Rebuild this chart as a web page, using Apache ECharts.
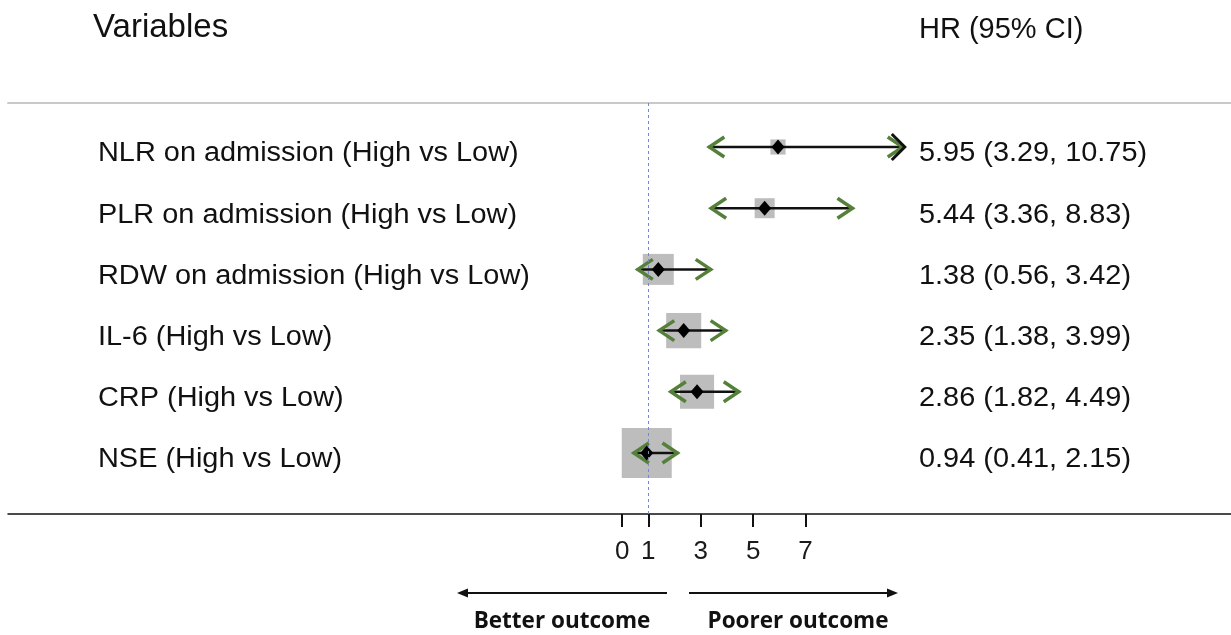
<!DOCTYPE html>
<html>
<head>
<meta charset="utf-8">
<script src="https://cdn.jsdelivr.net/npm/echarts@6/dist/echarts.min.js"></script>
<style>
  html, body { margin: 0; padding: 0; background: #fff; }
  #chart { width: 1231px; height: 635px; }
</style>
</head>
<body>
<div id="chart"></div>
<script>
// Hazard ratios with 95% confidence intervals
const variables = [
  'NLR on admission (High vs Low)',
  'PLR on admission (High vs Low)',
  'RDW on admission (High vs Low)',
  'IL-6 (High vs Low)',
  'CRP (High vs Low)',
  'NSE (High vs Low)'
];
const hr    = [5.95, 5.44, 1.38, 2.35, 2.86, 0.94];
const lower = [3.29, 3.36, 0.56, 1.38, 1.82, 0.41];
const upper = [10.75, 8.83, 3.42, 3.99, 4.49, 2.15];
// relative study weight, drawn as the area of the grey square
const weights = [2.3, 4.0, 9.6, 12.3, 11.6, 25.0];
const tickValues = [0, 1, 3, 5, 7];
const nullValue = 1;
const displayCap = 10;   // intervals reaching past this get a dark end cap

const FONT = "'Liberation Sans', Arial, sans-serif";
const GREEN = '#55803a';

const rows = variables.map((v, i) => [i, hr[i], lower[i], upper[i], weights[i]]);

function fmt(n) { return n.toFixed(2); }

const chart = echarts.init(document.getElementById('chart'), null, { renderer: 'canvas' });

const option = {
  animation: false,
  backgroundColor: '#ffffff',
  grid: { left: 8, right: 0, top: 103, bottom: 121, containLabel: false },
  xAxis: [
    {
      type: 'value',
      min: -23.44,
      max: 23.24,
      position: 'bottom',
      splitLine: { show: false },
      axisLine: { show: true, onZero: false, lineStyle: { color: '#111', width: 1.5 } },
      axisTick: { show: true, length: 13, customValues: tickValues, lineStyle: { color: '#111', width: 2 } },
      axisLabel: {
        show: true, customValues: tickValues, margin: 25,
        fontFamily: FONT, fontSize: 26, color: '#1a1a1a'
      }
    },
    {
      type: 'value',
      min: -23.44,
      max: 23.24,
      position: 'top',
      splitLine: { show: false },
      axisLine: { show: true, onZero: false, lineStyle: { color: '#c9c9c9', width: 2 } },
      axisTick: { show: false },
      axisLabel: { show: false }
    }
  ],
  yAxis: {
    type: 'value', inverse: true, min: -0.719, max: 5.997, show: false
  },
  graphic: [
    { type: 'text', left: 93, top: 11,
      style: { text: 'Variables', font: "33px " + FONT, fill: '#111' } },
    { type: 'text', left: 919, top: 15,
      style: { text: 'HR (95% CI)', font: "29px " + FONT, fill: '#111' } },
    // direction arrows under the axis
    { type: 'line', shape: { x1: 667, y1: 593, x2: 466, y2: 593 },
      style: { stroke: '#111', lineWidth: 2 } },
    { type: 'polygon', shape: { points: [[457, 593], [468, 588.5], [468, 597.5]] },
      style: { fill: '#111' } },
    { type: 'line', shape: { x1: 689, y1: 593, x2: 889, y2: 593 },
      style: { stroke: '#111', lineWidth: 2 } },
    { type: 'polygon', shape: { points: [[898, 593], [887, 588.5], [887, 597.5]] },
      style: { fill: '#111' } },
    { type: 'text', x: 562, y: 622,
      style: { text: 'Better outcome', font: "bold 22.5px 'Open Sans', sans-serif", fill: '#111',
               align: 'center', verticalAlign: 'middle' } },
    { type: 'text', x: 798, y: 622,
      style: { text: 'Poorer outcome', font: "bold 22.5px 'Open Sans', sans-serif", fill: '#111',
               align: 'center', verticalAlign: 'middle' } }
  ],
  series: [
    {
      // weight squares
      type: 'custom',
      z: 2,
      data: rows,
      renderItem: function (params, api) {
        const c = api.coord([api.value(1), api.value(0)]);
        const side = Math.sqrt(api.value(4)) * 10;
        return {
          type: 'rect',
          shape: { x: c[0] - side / 2, y: c[1] - side / 2, width: side, height: side },
          style: { fill: '#bdbdbd' }
        };
      }
    },
    {
      // reference line at HR = 1
      type: 'line',
      z: 3,
      data: [],
      markLine: {
        silent: true,
        symbol: 'none',
        label: { show: false },
        lineStyle: { color: '#7489c9', type: [3, 3], width: 1 },
        data: [{ xAxis: nullValue }]
      }
    },
    {
      // intervals, arrow ends, point estimates and text columns
      type: 'custom',
      z: 4,
      data: rows,
      renderItem: function (params, api) {
        const row = api.value(0);
        const est = api.value(1), lo = api.value(2), hi = api.value(3);
        const c = api.coord([est, row]);
        const pl = api.coord([lo, row]);
        const ph = api.coord([hi, row]);
        const y = c[1];
        const aw = 16, ah = 10;
        const children = [
          { type: 'line', shape: { x1: pl[0], y1: y, x2: ph[0], y2: y },
            style: { stroke: '#111', lineWidth: 2.5 } },
          { type: 'polyline', shape: { points: [[pl[0] + aw, y - ah], [pl[0] + 1, y], [pl[0] + aw, y + ah]] },
            style: { stroke: GREEN, lineWidth: 3.5, fill: null } },
          { type: 'polyline', shape: { points: [[ph[0] - aw, y - ah], [ph[0] - 1, y], [ph[0] - aw, y + ah]] },
            style: { stroke: GREEN, lineWidth: 3.5, fill: null } }
        ];
        if (hi > displayCap) {
          children.push({ type: 'polyline',
            shape: { points: [[ph[0] - 12, y - 13], [ph[0] + 1, y], [ph[0] - 12, y + 13]] },
            style: { stroke: '#111', lineWidth: 3, fill: null } });
        }
        children.push({ type: 'polygon',
          shape: { points: [[c[0], y - 7.5], [c[0] + 6.5, y], [c[0], y + 7.5], [c[0] - 6.5, y]] },
          style: { fill: '#000' } });
        children.push({ type: 'text', x: 98, y: y + 7,
          style: { text: variables[row], font: "27px " + FONT, fill: '#111',
                   align: 'left', verticalAlign: 'middle' },
          scaleX: 1.07, originX: 0 });
        children.push({ type: 'text', x: 919, y: y + 7,
          style: { text: fmt(est) + ' (' + fmt(lo) + ', ' + fmt(hi) + ')', font: "27px " + FONT,
                   fill: '#111', align: 'left', verticalAlign: 'middle' },
          scaleX: 1.07, originX: 0 });
        return { type: 'group', children: children };
      }
    }
  ]
};

chart.setOption(option);
</script>
</body>
</html>
